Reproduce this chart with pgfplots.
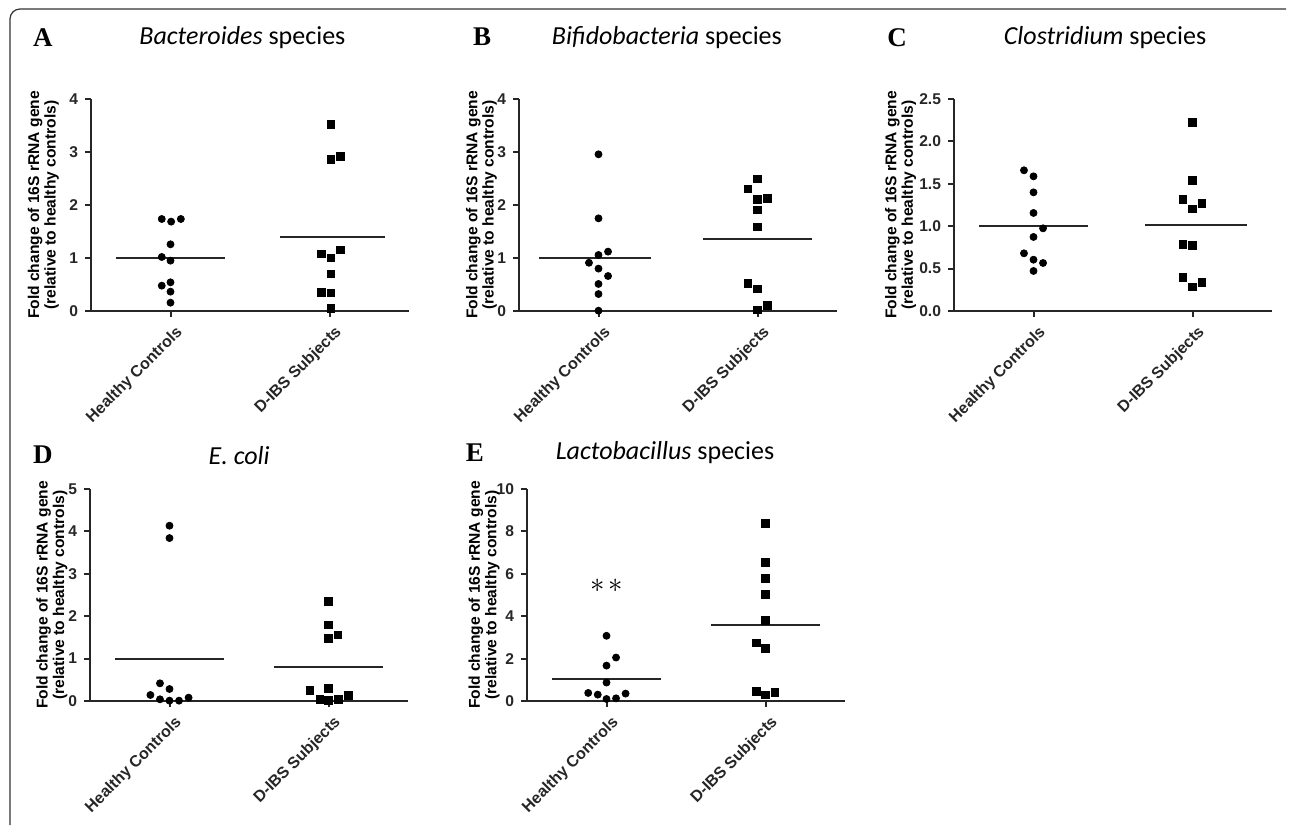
\documentclass[border=0pt]{standalone}
\usepackage{fontspec}
\setmainfont{Liberation Sans}
\newfontfamily\titlefont{Carlito}
\newfontfamily\letterfont{Liberation Serif}
\usepackage{pgfplots}
\pgfplotsset{compat=1.18}

\newcommand{\axfont}{\fontsize{7.8}{8.2}\selectfont\bfseries}
\newcommand{\ttl}{\fontsize{13}{13}\selectfont\titlefont}
\newcommand{\lett}{\fontsize{13.5}{13.5}\selectfont\letterfont\bfseries}

\pgfplotsset{
  every axis title shift=0pt,
  panel/.style={
    width=159pt, height=106pt, scale only axis,
    anchor=south west, clip=false,
    xmin=-0.5, xmax=1.5, ymin=0,
    axis lines*=left,
    axis line style={line width=1pt, black!85},
    xtick={0,1},
    xticklabels={Healthy Controls, D-IBS Subjects},
    tick style={line width=1pt, black!85},
    tick align=outside, major tick length=3pt,
    tick label style={font=\axfont, text=black!85},
    xticklabel style={rotate=45, anchor=north east, inner sep=1pt, yshift=-3pt, font=\fontsize{8}{8}\selectfont\bfseries},
    /pgf/number format/assume math mode=true,
    ylabel={Fold change of 16S rRNA gene\\(relative to healthy controls)},
    ylabel style={align=center, font=\axfont, text=black, anchor=center},
    title style={font=\ttl, anchor=center},
  },
  hc/.style={only marks, mark=*, mark size=1.75pt, black},
  ibs/.style={only marks, mark=square*, mark size=1.9pt, black},
  mean/.style={line width=1pt, black!85, no marks},
}

\begin{document}
\begin{tikzpicture}
\useasboundingbox (0,0) rectangle (645pt,412.5pt);
\draw[black!80, line width=0.6pt, rounded corners=5pt] (5pt,0pt) -- (5pt,408pt) -- (643pt,408pt);

% A
\begin{axis}[panel, at={(45.5pt,257pt)}, ymax=4, ytick={0,1,2,3,4},
  ylabel style={at={(axis description cs:-0.150,0.5)}},
  title={\textit{Bacteroides} species},
  title style={at={(axis description cs:0.476,1.292)}}]
\addplot[hc] coordinates {(-0.055,1.736) (0.004,1.686) (0.065,1.736) (0,1.258) (-0.055,1.019) (0,0.95) (-0.055,0.478) (0,0.541) (0,0.365) (0,0.157)};
\addplot[ibs] coordinates {(1.01,3.52) (1.01,2.86) (1.07,2.92) (0.95,1.075) (1.01,1.0) (1.07,1.15) (1.01,0.70) (0.95,0.35) (1.01,0.34) (1.01,0.044)};
\addplot[mean] coordinates {(-0.34,1.0) (0.34,1.0)};
\addplot[mean] coordinates {(0.69,1.40) (1.35,1.40)};
\node[font=\lett] at (axis description cs:-0.151,1.292) {A};
\end{axis}

% B
\begin{axis}[panel, at={(259.5pt,257pt)}, ymax=4, ytick={0,1,2,3,4},
  ylabel style={at={(axis description cs:-0.118,0.5)}},
  title={\textit{Bifidobacteria} species},
  title style={at={(axis description cs:0.465,1.292)}}]
\addplot[hc] coordinates {(0,2.956) (0,1.748) (0,1.057) (0.06,1.12) (-0.06,0.91) (0,0.80) (0.06,0.66) (0,0.51) (0,0.32) (0,0.006)};
\addplot[ibs] coordinates {(1,2.49) (0.94,2.30) (1,2.11) (1.063,2.126) (1,1.91) (1,1.585) (0.94,0.522) (1,0.42) (1.063,0.107) (1,0.02)};
\addplot[mean] coordinates {(-0.375,1.0) (0.33,1.0)};
\addplot[mean] coordinates {(0.66,1.36) (1.34,1.36)};
\node[font=\lett] at (axis description cs:-0.116,1.292) {B};
\end{axis}

% C
\begin{axis}[panel, at={(477pt,257pt)}, ymax=2.5, ytick={0,0.5,1,1.5,2,2.5},
  yticklabel style={/pgf/number format/.cd, fixed, fixed zerofill, precision=1},
  ylabel style={at={(axis description cs:-0.168,0.5)}},
  title={\textit{Clostridium} species},
  title style={at={(axis description cs:0.475,1.288)}}]
\addplot[hc] coordinates {(-0.06,1.659) (0,1.588) (0,1.399) (0,1.156) (0.06,0.975) (0,0.873) (-0.06,0.68) (0,0.605) (0.06,0.566) (0,0.472)};
\addplot[ibs] coordinates {(1,2.225) (1,1.541) (0.94,1.313) (1,1.203) (1.06,1.27) (0.94,0.786) (1,0.774) (0.94,0.393) (1,0.283) (1.06,0.338)};
\addplot[mean] coordinates {(-0.34,1.0) (0.34,1.0)};
\addplot[mean] coordinates {(0.70,1.018) (1.34,1.018)};
\node[font=\lett] at (axis description cs:-0.179,1.288) {C};
\end{axis}

% D
\begin{axis}[panel, at={(45pt,62pt)}, ymax=5, ytick={0,1,2,3,4,5},
  ylabel style={at={(axis description cs:-0.120,0.5)}},
  title={\textit{E. coli}},
  title style={at={(axis description cs:0.469,1.160)}}]
\addplot[hc] coordinates {(0,4.134) (0,3.843) (-0.06,0.417) (0,0.283) (-0.12,0.142) (-0.06,0.04) (0,0.008) (0.06,0.008) (0.12,0.079)};
\addplot[ibs] coordinates {(1,2.346) (1,1.795) (1,1.48) (1.06,1.559) (0.884,0.244) (1,0.299) (0.945,0.04) (1,0.008) (1.063,0.04) (1.126,0.126)};
\addplot[mean] coordinates {(-0.34,1.0) (0.34,1.0)};
\addplot[mean] coordinates {(0.66,0.795) (1.34,0.795)};
\node[font=\lett] at (axis description cs:-0.148,1.160) {D};
\end{axis}

% E
\begin{axis}[panel, at={(263.5pt,62pt)}, ymax=10, ytick={0,2,4,6,8,10},
  ylabel style={at={(axis description cs:-0.135,0.5)}},
  title={\textit{Lactobacillus} species},
  title style={at={(axis description cs:0.434,1.170)}}]
\addplot[hc] coordinates {(0,3.076) (0.06,2.05) (0,1.67) (0,0.87) (-0.115,0.38) (-0.055,0.30) (0,0.095) (0.06,0.126) (0.12,0.35)};
\addplot[ibs] coordinates {(1,8.375) (1,6.53) (1,5.77) (1,5.03) (1,3.79) (0.942,2.74) (1,2.49) (0.942,0.457) (1,0.284) (1.06,0.41)};
\addplot[mean] coordinates {(-0.34,1.04) (0.34,1.04)};
\addplot[mean] coordinates {(0.66,3.58) (1.34,3.58)};
\node[font=\fontsize{14}{14}\selectfont] at (axis cs:0,5.43) {$\ast$\hspace{1.5pt}$\ast$};
\node[font=\lett] at (axis description cs:-0.164,1.170) {E};
\end{axis}
\end{tikzpicture}
\end{document}
